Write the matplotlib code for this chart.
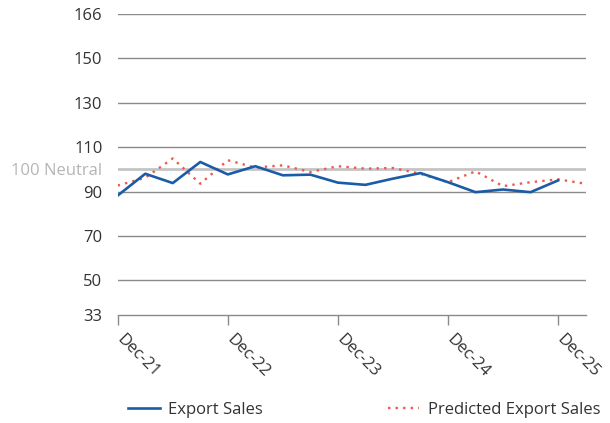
import numpy as np
import matplotlib.pyplot as plt
from matplotlib.transforms import ScaledTranslation

plt.rcParams['font.family'] = ['Open Sans', 'DejaVu Sans']

# quarterly points, Dec-21 .. Mar-26
quarters = np.arange(18)
export_sales = [88.2, 98.0, 93.8, 103.3, 97.7, 101.4, 97.3, 97.6, 94.0,
                93.0, 95.8, 98.3, 94.2, 89.7, 90.9, 89.7, 95.0]
predicted_sales = [92.7, 96.2, 104.9, 93.5, 104.1, 100.8, 101.8, 98.8, 101.4,
                   100.3, 100.6, 98.0, 94.2, 99.1, 92.4, 94.2, 95.5, 93.5]

xtick_pos = [0, 4, 8, 12, 16]
xtick_labels = ['Dec-21', 'Dec-22', 'Dec-23', 'Dec-24', 'Dec-25']

ytick_pos = [34.3, 50, 70, 90, 100, 110, 130, 150, 170]
ytick_labels = ['33', '50', '70', '90', '100 Neutral', '110', '130', '150', '166']
neutral = 100

fig = plt.figure(figsize=(6.1, 4.23), dpi=100)
ax = fig.add_axes([0.193, 0.255, 0.767, 0.712])

# grid lines; the neutral one is lighter and thicker
for y in ytick_pos[1:]:
    if y == neutral:
        ax.axhline(y, color='#c4c4c4', lw=2.0, zorder=1)
    else:
        ax.axhline(y, color='#8a8a8a', lw=1.0, zorder=1)

ax.plot(quarters[:len(export_sales)], export_sales, color='#1a5ca8', lw=1.9,
        label='Export Sales', zorder=3)
ax.plot(quarters[:len(predicted_sales)], predicted_sales, color='#f0584c', lw=1.7,
        ls=(0, (1, 2.2)), label='Predicted Export Sales', zorder=2)

ax.set_xlim(0, 17)
ax.set_ylim(ytick_pos[0], ytick_pos[-1])

for s in ['top', 'right', 'left']:
    ax.spines[s].set_visible(False)
ax.spines['bottom'].set_color('#8a8a8a')
ax.spines['bottom'].set_linewidth(1.0)

ax.set_yticks(ytick_pos)
ax.set_yticklabels(ytick_labels)
ax.tick_params(axis='y', length=0, pad=11, labelsize=12, labelcolor='#333333')
for lab in ax.get_yticklabels():
    if lab.get_text().startswith('100'):
        lab.set_color('#b5b5b5')

ax.set_xticks(xtick_pos)
ax.set_xticklabels(xtick_labels, rotation=-45, ha='left', va='top',
                   rotation_mode='anchor')
ax.tick_params(axis='x', length=7, width=1.0, color='#8a8a8a', pad=5,
               labelsize=12, labelcolor='#333333')
shift = ScaledTranslation(7 / 100, 0, fig.dpi_scale_trans)
for lab in ax.get_xticklabels():
    lab.set_transform(lab.get_transform() + shift)

fig.legend(loc='center', bbox_to_anchor=(0.597, 0.031), ncol=2, frameon=False,
           fontsize=12, handlelength=1.9, handletextpad=0.5, columnspacing=7.5,
           labelcolor='#333333')

fig.savefig('out.png', dpi=100)
